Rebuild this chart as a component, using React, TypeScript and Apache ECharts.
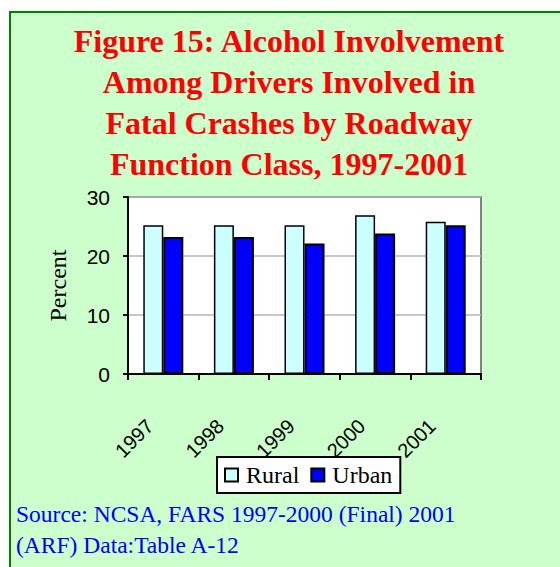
import React, { useEffect, useRef } from "react";
import * as echarts from "echarts";

const categories = ["1997", "1998", "1999", "2000", "2001"];
const rural = [25.2, 25.2, 25.2, 26.9, 25.8];
const urban = [23.2, 23.2, 22.1, 23.8, 25.2];
const yTicks = { min: 0, max: 30, interval: 10 };
const titleLines = [
  "Figure 15: Alcohol Involvement",
  "Among Drivers Involved in",
  "Fatal Crashes by Roadway",
  "Function Class, 1997-2001",
];
const sourceLines = ["Source: NCSA, FARS 1997-2000 (Final) 2001", "(ARF) Data:Table A-12"];

export default function App() {
  const ref = useRef<HTMLDivElement>(null);
  useEffect(() => {
    if (!ref.current) return;
    const chart = echarts.init(ref.current, undefined, { renderer: "svg" });
    const serif = "Liberation Serif";
    const sans = "Liberation Sans";
    chart.setOption({
      animation: false,
      backgroundColor: "#ffffff",
      graphic: [
        {
          type: "rect",
          z: -100,
          shape: { x: 10, y: 12, width: 600, height: 600 },
          style: { fill: "#CCFFCC", stroke: "#008000", lineWidth: 2 },
        },
        {
          type: "text",
          x: 289,
          y: 20,
          style: {
            text: titleLines.join("\n"),
            fontFamily: serif,
            fontWeight: "bold",
            fontSize: 32,
            fill: "#FF0000",
            align: "center",
            verticalAlign: "top",
            lineHeight: 41,
          },
        },
        {
          type: "text",
          x: 16,
          y: 498,
          style: {
            text: sourceLines.join("\n"),
            fontFamily: serif,
            fontSize: 23.5,
            fill: "#0000FF",
            align: "left",
            verticalAlign: "top",
            lineHeight: 31,
          },
        },
      ],
      grid: {
        left: 128,
        top: 197,
        width: 353,
        height: 177,
        show: true,
        backgroundColor: "#ffffff",
        borderColor: "#808080",
        borderWidth: 2,
        outerBoundsMode: "none",
      },
      legend: {
        left: 217,
        top: 457,
        orient: "horizontal",
        itemWidth: 13,
        itemHeight: 13,
        itemGap: 11,
        padding: [6, 8, 6, 7],
        backgroundColor: "#ffffff",
        borderColor: "#000000",
        borderWidth: 2,
        icon: "rect",
        textStyle: { fontSize: 24, fontFamily: serif, color: "#000", padding: [0, 0, 0, 3] },
        data: ["Rural", "Urban"],
      },
      xAxis: {
        type: "category",
        data: categories,
        axisLine: { show: true, lineStyle: { color: "#000", width: 2 } },
        axisTick: { show: true, interval: 0, length: 6, alignWithLabel: false, lineStyle: { color: "#000", width: 2 } },
        splitLine: { show: false },
        axisLabel: {
          interval: 0,
          rotate: 45,
          fontSize: 20,
          fontFamily: sans,
          color: "#000",
          margin: 21,
          verticalAlign: "top",
          padding: [0, 29, 0, 0],
        },
      },
      yAxis: {
        type: "value",
        min: yTicks.min,
        max: yTicks.max,
        interval: yTicks.interval,
        name: "Percent",
        nameLocation: "middle",
        nameGap: 58,
        nameTextStyle: { fontSize: 24, fontFamily: serif, color: "#000" },
        axisLine: { show: true, lineStyle: { color: "#000", width: 2 } },
        axisTick: { show: true, length: 5, lineStyle: { color: "#000", width: 2 } },
        splitLine: { show: true, lineStyle: { color: "#B4B4B4", width: 1.5 } },
        axisLabel: { fontSize: 21, fontFamily: sans, color: "#000", margin: 18 },
      },
      series: [
        {
          name: "Rural",
          type: "bar",
          data: rural,
          barWidth: 20,
          barGap: "0%",
          itemStyle: { color: "#CCFFFF", borderColor: "#000", borderWidth: 1.5 },
        },
        {
          name: "Urban",
          type: "bar",
          data: urban,
          barWidth: 20,
          barGap: "0%",
          itemStyle: { color: "#0000FF", borderColor: "#000", borderWidth: 2 },
        },
      ],
    });
    return () => chart.dispose();
  }, []);
  return (
    <div
      ref={ref}
      style={{ position: "fixed", left: 0, top: 0, width: 560, height: 567 }}
    />
  );
}
